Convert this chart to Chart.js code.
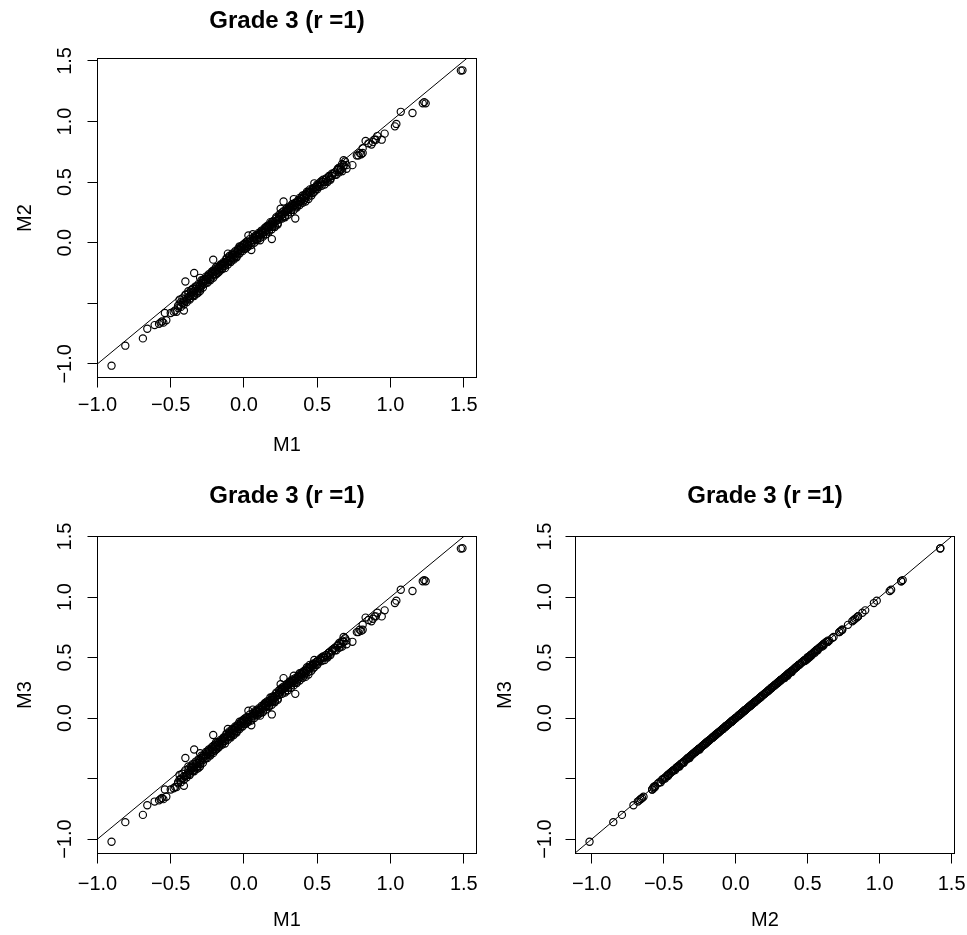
<!DOCTYPE html>
<html>
<head>
<meta charset="utf-8">
<script src="https://cdn.jsdelivr.net/npm/chart.js@4"></script>
<style>
html,body{margin:0;padding:0;background:#fff;overflow:hidden;width:967px;height:935px;}
canvas{position:absolute;}
</style>
</head>
<body>
<canvas id="c1" width="490" height="467" style="left:0px;top:0px"></canvas>
<canvas id="c2" width="490" height="468" style="left:0px;top:467px"></canvas>
<canvas id="c3" width="500" height="468" style="left:483px;top:467px"></canvas>
<script>
// ---------------- data ----------------
const M1 = [
  -0.904,-0.81,-0.69,-0.66,-0.61,-0.58,-0.57,-0.56,-0.55,-0.53,-0.54,-0.50,-0.48,-0.47,-0.46,-0.41,-0.45,-0.44,-0.43,-0.42,-0.41,-0.40,-0.39,-0.40,-0.34,-0.21,
  -0.38,-0.38,-0.37,-0.37,-0.36,-0.36,-0.35,-0.35,-0.34,-0.34,-0.33,-0.33,-0.32,-0.32,-0.31,-0.31,-0.30,-0.30,-0.30,-0.29,-0.29,-0.28,-0.28,-0.27,-0.27,-0.26,-0.26,-0.25,-0.25,-0.24,-0.24,-0.23,-0.23,-0.22,-0.22,-0.21,-0.21,-0.20,-0.20,-0.19,-0.19,
  -0.18,-0.18,-0.17,-0.17,-0.16,-0.16,-0.15,-0.15,-0.14,-0.14,-0.13,-0.13,-0.12,-0.12,-0.11,-0.11,-0.10,-0.10,-0.09,-0.09,-0.08,-0.08,-0.07,-0.07,-0.06,-0.06,-0.05,-0.05,-0.04,-0.04,-0.03,-0.03,-0.02,-0.02,-0.01,-0.01,0.00,0.00,0.01,0.01,0.02,0.02,0.03,0.03,0.04,0.05,0.05,0.06,0.06,0.07,0.07,0.08,0.08,0.09,0.09,0.10,0.10,
  0.11,0.11,0.12,0.12,0.13,0.13,0.14,0.14,0.15,0.15,0.16,0.16,0.17,0.17,0.18,0.18,0.19,0.19,0.19,0.20,0.20,0.21,0.21,0.22,0.22,0.23,0.23,0.24,0.24,0.25,0.25,0.26,0.26,0.27,0.27,0.28,0.28,0.29,0.29,0.30,0.30,0.31,0.31,0.32,0.32,0.33,0.33,0.34,0.34,
  0.35,0.35,0.36,0.36,0.37,0.37,0.38,0.38,0.39,0.39,0.40,0.40,0.41,0.41,0.42,0.42,0.43,0.43,0.44,0.44,0.45,0.45,0.46,0.47,0.47,0.48,0.48,0.49,0.50,0.50,0.52,0.53,0.54,0.55,0.56,0.57,0.58,0.59,0.60,0.61,0.62,0.63,0.64,0.65,0.65,0.66,0.67,0.67,0.68,0.68,0.69,0.70,0.70,
  0.74,0.77,0.78,0.79,0.80,0.81,0.81,0.83,0.85,0.87,0.88,0.89,0.90,0.91,0.94,0.96,1.03,1.04,1.07,1.15,1.22,1.23,1.24,1.48,1.491,
  -0.45,-0.44,-0.43,-0.42,-0.41,-0.40,-0.39,-0.38,-0.37,-0.36,
  -0.35,-0.34,-0.33,-0.32,-0.31,-0.30,-0.29,-0.28,-0.27,-0.26,
  -0.25,-0.24,-0.23,-0.22,-0.21,-0.20,-0.19,-0.18,-0.17,-0.16,
  -0.15,-0.14,-0.13,-0.12,-0.11,-0.10,-0.09,-0.08,-0.07,-0.06,
  -0.05,-0.04,-0.03,-0.02,-0.01,0.00,0.01,0.02,0.03,0.04,
  0.05,0.06,0.07,0.08,0.09,0.10,0.11,0.12,0.13,0.14,
  0.15,0.16,0.17,0.18,0.19,0.20,0.21,0.22,0.23,0.24,
  0.25,0.26,0.27,0.28,0.29,0.30,0.31,0.32,0.33,0.34,
  0.35,0.36,0.37,0.38,0.39,0.40,0.41,0.42,0.43,0.44,
  0.45,0.46,0.47,0.48,0.49,0.50,0.51,0.52,0.53,0.54,
  0.55,0.56,0.57,0.58,0.59,0.60,
  0.62,0.64,0.66,0.68
];
const M2 = [
  -1.015,-0.85,-0.79,-0.71,-0.68,-0.67,-0.66,-0.65,-0.66,-0.64,-0.58,-0.58,-0.57,-0.56,-0.57,-0.56,-0.52,-0.51,-0.49,-0.50,-0.47,-0.48,-0.47,-0.32,-0.25,-0.14,
  -0.45,-0.42,-0.44,-0.47,-0.43,-0.39,-0.44,-0.41,-0.40,-0.43,-0.41,-0.38,-0.40,-0.36,-0.37,-0.41,-0.38,-0.35,-0.29,-0.36,-0.33,-0.33,-0.31,-0.34,-0.30,-0.31,-0.33,-0.30,-0.28,-0.29,-0.26,-0.27,-0.30,-0.28,-0.25,-0.26,-0.23,-0.24,-0.27,-0.23,-0.20,
  -0.22,-0.25,-0.20,-0.23,-0.21,-0.18,-0.18,-0.21,-0.19,-0.16,-0.16,-0.19,-0.17,-0.14,-0.09,-0.15,-0.15,-0.12,-0.13,-0.16,-0.12,-0.09,-0.10,-0.13,-0.11,-0.08,-0.08,-0.11,-0.09,-0.06,-0.06,-0.03,-0.07,-0.04,-0.04,-0.02,-0.05,-0.02,-0.03,0.00,-0.01,-0.04,0.06,-0.02,0.01,-0.06,0.00,0.07,0.02,0.02,0.04,0.03,0.05,0.02,0.06,0.05,0.08,
  0.04,0.07,0.07,0.10,0.08,0.06,0.09,0.12,0.10,0.13,0.11,0.14,0.13,0.10,0.14,0.17,0.03,0.17,0.13,0.15,0.18,0.17,0.14,0.18,0.21,0.19,0.16,0.21,0.23,0.22,0.28,0.23,0.25,0.34,0.24,0.25,0.22,0.26,0.28,0.27,0.25,0.28,0.30,0.30,0.27,0.29,0.32,0.36,0.31,
  0.20,0.31,0.33,0.30,0.35,0.32,0.34,0.37,0.37,0.34,0.36,0.39,0.38,0.35,0.40,0.37,0.39,0.42,0.42,0.38,0.41,0.44,0.43,0.44,0.41,0.49,0.45,0.46,0.47,0.44,0.48,0.51,0.50,0.48,0.52,0.50,0.54,0.53,0.55,0.57,0.58,0.56,0.60,0.62,0.58,0.61,0.65,0.59,0.63,0.68,0.67,0.64,0.61,
  0.64,0.72,0.72,0.74,0.73,0.74,0.78,0.84,0.82,0.81,0.83,0.85,0.85,0.88,0.85,0.90,0.96,0.98,1.08,1.07,1.15,1.16,1.15,1.42,1.4225,
  -0.54,-0.47,-0.53,-0.46,-0.51,-0.43,-0.49,-0.40,-0.46,-0.41,
  -0.38,-0.44,-0.36,-0.42,-0.34,-0.40,-0.31,-0.37,-0.32,-0.28,
  -0.33,-0.27,-0.31,-0.24,-0.29,-0.22,-0.26,-0.20,-0.24,-0.19,
  -0.22,-0.17,-0.21,-0.13,-0.18,-0.11,-0.15,-0.10,-0.14,-0.07,
  -0.12,-0.05,-0.09,-0.03,-0.07,-0.01,-0.05,0.01,-0.03,0.03,
  -0.02,0.04,0.00,0.06,0.03,0.07,0.02,0.09,0.05,0.11,
  0.07,0.13,0.09,0.15,0.11,0.17,0.13,0.20,0.15,0.19,
  0.24,0.20,0.26,0.21,0.27,0.23,0.29,0.25,0.31,0.27,
  0.33,0.29,0.34,0.31,0.36,0.33,0.39,0.34,0.40,0.36,
  0.42,0.39,0.45,0.42,0.44,0.48,0.46,0.50,0.47,0.52,
  0.50,0.53,0.51,0.55,0.52,0.57,
  0.56,0.61,0.60,0.64
];
const M3 = [
  -1.022,-0.86,-0.80,-0.72,-0.69,-0.68,-0.67,-0.66,-0.67,-0.65,-0.59,-0.59,-0.58,-0.57,-0.57,-0.56,-0.53,-0.51,-0.50,-0.50,-0.48,-0.48,-0.47,-0.33,-0.26,-0.14,
  -0.45,-0.43,-0.44,-0.47,-0.43,-0.40,-0.44,-0.41,-0.40,-0.43,-0.41,-0.38,-0.40,-0.37,-0.37,-0.41,-0.38,-0.35,-0.29,-0.36,-0.33,-0.33,-0.31,-0.34,-0.30,-0.31,-0.33,-0.30,-0.28,-0.29,-0.26,-0.27,-0.30,-0.28,-0.25,-0.26,-0.23,-0.24,-0.27,-0.23,-0.20,
  -0.22,-0.25,-0.20,-0.23,-0.21,-0.18,-0.18,-0.21,-0.19,-0.16,-0.16,-0.19,-0.17,-0.14,-0.09,-0.15,-0.15,-0.12,-0.13,-0.16,-0.12,-0.09,-0.10,-0.13,-0.11,-0.08,-0.08,-0.11,-0.09,-0.06,-0.06,-0.03,-0.07,-0.04,-0.04,-0.02,-0.05,-0.02,-0.03,0.00,-0.01,-0.04,0.06,-0.02,0.01,-0.06,0.00,0.07,0.02,0.02,0.04,0.03,0.05,0.02,0.06,0.05,0.08,
  0.04,0.07,0.07,0.10,0.08,0.06,0.09,0.12,0.10,0.13,0.11,0.14,0.13,0.10,0.14,0.17,0.03,0.17,0.13,0.15,0.18,0.17,0.14,0.18,0.21,0.19,0.16,0.21,0.23,0.22,0.28,0.23,0.25,0.33,0.24,0.25,0.22,0.26,0.28,0.27,0.25,0.28,0.30,0.30,0.27,0.29,0.32,0.35,0.31,
  0.20,0.31,0.33,0.30,0.35,0.32,0.34,0.37,0.37,0.34,0.36,0.38,0.38,0.35,0.40,0.37,0.39,0.42,0.42,0.38,0.41,0.44,0.43,0.44,0.41,0.48,0.45,0.46,0.47,0.44,0.48,0.50,0.50,0.48,0.52,0.50,0.54,0.53,0.55,0.57,0.58,0.56,0.60,0.62,0.58,0.61,0.64,0.59,0.63,0.67,0.66,0.64,0.61,
  0.63,0.71,0.71,0.73,0.72,0.73,0.77,0.83,0.81,0.80,0.82,0.84,0.84,0.87,0.84,0.89,0.95,0.97,1.06,1.05,1.13,1.14,1.13,1.40,1.403,
  -0.54,-0.47,-0.53,-0.46,-0.51,-0.43,-0.49,-0.40,-0.46,-0.41,
  -0.38,-0.44,-0.36,-0.42,-0.34,-0.40,-0.31,-0.37,-0.32,-0.28,
  -0.33,-0.27,-0.31,-0.24,-0.29,-0.22,-0.26,-0.20,-0.24,-0.19,
  -0.22,-0.17,-0.21,-0.13,-0.18,-0.11,-0.15,-0.10,-0.14,-0.07,
  -0.12,-0.05,-0.09,-0.03,-0.07,-0.01,-0.05,0.01,-0.03,0.03,
  -0.02,0.04,0.00,0.06,0.03,0.07,0.02,0.09,0.05,0.11,
  0.07,0.13,0.09,0.15,0.11,0.17,0.13,0.20,0.15,0.19,
  0.24,0.20,0.26,0.21,0.27,0.23,0.29,0.25,0.31,0.27,
  0.33,0.29,0.34,0.31,0.36,0.33,0.39,0.34,0.40,0.36,
  0.42,0.39,0.45,0.42,0.44,0.47,0.46,0.49,0.47,0.51,
  0.50,0.52,0.51,0.54,0.52,0.56,
  0.56,0.60,0.59,0.63
];
const tickValues = [-1.0, -0.5, 0.0, 0.5, 1.0, 1.5];
const hiddenYTicks = [-0.5];
const panelTitle = 'Grade 3 (r =1)';
const refLine = [-3, 3];          // y = x reference line (clipped to the plot box)

// ---------------- styling / layout ----------------
const FAMILY = "'Liberation Sans', Arial, Helvetica, sans-serif";
Chart.defaults.font.family = FAMILY;
Chart.defaults.font.size = 20;
Chart.defaults.color = '#000';

const TICK_LEN = 10;
const FONT_LH = 24;      // 20px * 1.2
const TITLE_LH = 28.8;   // 24px * 1.2

function rlim(a) {       // R's default 4% axis extension
  const lo = Math.min(...a), hi = Math.max(...a), d = (hi - lo) * 0.04;
  return [lo - d, hi + d];
}
function fmt(v) {
  const s = Math.abs(v).toFixed(1);
  return v < -1e-9 ? '\u2212' + s : s;
}
const mctx = document.createElement('canvas').getContext('2d');
mctx.font = '20px ' + FAMILY;
const widestY = Math.max(...tickValues.map(v => hiddenYTicks.includes(v) ? 0 : mctx.measureText(fmt(v)).width));

const boxPlugin = {
  id: 'rbox',
  afterDraw(chart) {
    const {ctx, chartArea: a} = chart;
    ctx.save();
    ctx.strokeStyle = '#000';
    ctx.lineWidth = 1;
    ctx.strokeRect(a.left, a.top, a.right - a.left, a.bottom - a.top);
    ctx.restore();
  }
};

const panels = [
  {canvas: 'c1', xs: M1, ys: M2, xl: 'M1', yl: 'M2', w: 490, h: 467,
   area: {left: 97.5, top: 58.5, right: 476.5, bottom: 377.5},
   titleY: 21.7, xTickY: 405, xTitleY: 445, yTickX: 65.5, yTitleX: 25},
  {canvas: 'c2', xs: M1, ys: M3, xl: 'M1', yl: 'M3', w: 490, h: 468,
   area: {left: 97.5, top: 69.5, right: 476.5, bottom: 386.5},
   titleY: 29.7, xTickY: 417, xTitleY: 453, yTickX: 65.5, yTitleX: 25},
  {canvas: 'c3', xs: M2, ys: M3, xl: 'M2', yl: 'M3', w: 500, h: 468,
   area: {left: 92.5, top: 69.5, right: 471.5, bottom: 386.5},
   titleY: 29.7, xTickY: 417, xTitleY: 453, yTickX: 62, yTitleX: 22}
];

panels.forEach(L => {
  const xr = rlim(L.xs), yr = rlim(L.ys);
  const tPadTop = L.titleY - TITLE_LH / 2;
  const grid = {display: true, drawOnChartArea: false, drawTicks: true, tickLength: TICK_LEN, color: '#000', lineWidth: 1};
  new Chart(document.getElementById(L.canvas), {
    type: 'scatter',
    data: {
      datasets: [
        {
          type: 'scatter',
          data: L.xs.map((x, i) => ({x: x, y: L.ys[i]})),
          pointStyle: 'circle',
          pointRadius: 3.6,
          pointHoverRadius: 3.6,
          pointBorderWidth: 1.15,
          pointBorderColor: '#000',
          pointBackgroundColor: 'rgba(0,0,0,0)',
          showLine: false,
          clip: false
        },
        {
          type: 'line',
          data: refLine.map(v => ({x: v, y: v})),
          borderColor: '#000',
          borderWidth: 1,
          pointRadius: 0,
          fill: false,
          tension: 0
        }
      ]
    },
    options: {
      responsive: false,
      animation: false,
      events: [],
      devicePixelRatio: 1,
      layout: {padding: {left: 0, top: 0, right: L.w - L.area.right, bottom: 0}},
      plugins: {
        legend: {display: false},
        tooltip: {enabled: false},
        title: {
          display: true, text: panelTitle, fullSize: false, color: '#000',
          font: {size: 24, weight: 'bold', lineHeight: 1.2},
          padding: {top: tPadTop, bottom: L.area.top - TITLE_LH - tPadTop}
        }
      },
      scales: {
        x: {
          type: 'linear', position: 'bottom', min: xr[0], max: xr[1],
          afterBuildTicks: s => { s.ticks = tickValues.map(v => ({value: v})); },
          afterFit: s => { s.height = L.h - L.area.bottom; },
          grid: grid,
          border: {display: false},
          ticks: {
            autoSkip: false, minRotation: 0, maxRotation: 0, color: '#000',
            padding: L.xTickY - L.area.bottom - TICK_LEN - FONT_LH / 2,
            callback: v => fmt(v)
          },
          title: {display: true, text: L.xl, color: '#000', font: {size: 20},
                  padding: {top: 0, bottom: L.h - L.xTitleY - FONT_LH / 2}}
        },
        y: {
          type: 'linear', position: 'left', min: yr[0], max: yr[1],
          afterBuildTicks: s => { s.ticks = tickValues.map(v => ({value: v})); },
          afterFit: s => { s.width = L.area.left; },
          grid: grid,
          border: {display: false},
          ticks: {
            autoSkip: false, minRotation: 90, maxRotation: 90, crossAlign: 'center', color: '#000',
            padding: L.area.left - L.yTickX - TICK_LEN - widestY / 2,
            callback: v => hiddenYTicks.includes(v) ? '' : fmt(v)
          },
          title: {display: true, text: L.yl, color: '#000', font: {size: 20},
                  padding: {top: L.yTitleX - FONT_LH / 2, bottom: 0}}
        }
      }
    },
    plugins: [boxPlugin]
  });
});
</script>
</body>
</html>
